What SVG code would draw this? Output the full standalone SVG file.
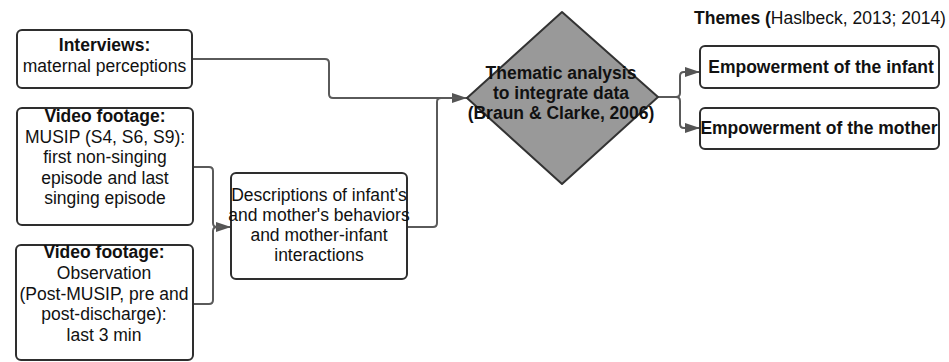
<svg xmlns="http://www.w3.org/2000/svg" width="949" height="362" viewBox="0 0 949 362">
<defs>
<style>
.box{fill:#ffffff;stroke:#2e2e2e;stroke-width:2}
.dia{fill:#999999;stroke:#333333;stroke-width:2;stroke-linejoin:round}
.t{font-family:"Liberation Sans",Arial,sans-serif;font-size:17.5px;fill:#111111;text-anchor:middle}
.b{font-weight:bold}
.c{fill:none;stroke:#5a5a5a;stroke-width:2}
</style>
<marker id="ah" markerUnits="userSpaceOnUse" markerWidth="15" markerHeight="10" refX="15" refY="5" orient="auto">
<path d="M0,0 L15,5 L0,10 z" fill="#555555"/>
</marker>
</defs>
<rect width="949" height="362" fill="#ffffff"/>
<g id="connectors">
<path class="c" d="M192,59 H325 Q329,59 329,63 V94 Q329,98 333,98 H467" marker-end="url(#ah)"/>
<path class="c" d="M407,227 H433 Q437,227 437,223 V102 Q437,98 441,98 H460"/>
<path class="c" d="M193,167 H209 Q213,167 213,171 V223 Q213,227 217,227 H231" marker-end="url(#ah)"/>
<path class="c" d="M193,304 H209 Q213,304 213,300 V231 Q213,227 217,227 H222"/>
<path class="c" d="M658,97 H676 Q680,97 680,93 V76 Q680,72 684,72 H700" marker-end="url(#ah)"/>
<path class="c" d="M658,97 H676 Q680,97 680,101 V124 Q680,128 684,128 H700" marker-end="url(#ah)"/>
</g>
<g id="interviews">
<rect class="box" x="17" y="30" width="175" height="58" rx="5"/>
<text class="t b" x="104.5" y="51">Interviews:</text>
<text class="t" x="104.5" y="72">maternal perceptions</text>
</g>
<g id="video-musip">
<rect class="box" x="17" y="108" width="176" height="117" rx="5"/>
<text class="t b" x="105" y="122">Video footage:</text>
<text class="t" x="105" y="142.5">MUSIP (S4, S6, S9):</text>
<text class="t" x="105" y="163">first non-singing</text>
<text class="t" x="105" y="183.5">episode and last</text>
<text class="t" x="105" y="204">singing episode</text>
</g>
<g id="video-observation">
<rect class="box" x="16" y="245" width="177" height="115" rx="5"/>
<text class="t b" x="104" y="258">Video footage:</text>
<text class="t" x="104" y="279">Observation</text>
<text class="t" x="104" y="300">(Post-MUSIP, pre and</text>
<text class="t" x="104" y="320">post-discharge):</text>
<text class="t" x="104" y="341">last 3 min</text>
</g>
<g id="descriptions">
<rect class="box" x="231" y="173" width="176" height="106" rx="5"/>
<text class="t" x="319" y="201">Descriptions of infant's</text>
<text class="t" x="319" y="221">and mother's behaviors</text>
<text class="t" x="319" y="241">and mother-infant</text>
<text class="t" x="319" y="261">interactions</text>
</g>
<g id="thematic-analysis">
<path class="dia" d="M467,98 L562,12 L658,97 L562,184 Z"/>
<text class="t b" x="561" y="79">Thematic analysis</text>
<text class="t b" x="561" y="99">to integrate data</text>
<text class="t b" x="561" y="119">(Braun &amp; Clarke, 2006)</text>
</g>
<g id="themes-title">
<text class="t" x="694" y="24" style="text-anchor:start"><tspan font-weight="bold">Themes (</tspan>Haslbeck, 2013; 2014)</text>
</g>
<g id="empowerment-infant">
<rect class="box" x="700" y="46" width="239" height="42" rx="5"/>
<text class="t b" x="821" y="73">Empowerment of the infant</text>
</g>
<g id="empowerment-mother">
<rect class="box" x="700" y="108" width="239" height="41" rx="5"/>
<text class="t b" x="819" y="134">Empowerment of the mother</text>
</g>
</svg>
